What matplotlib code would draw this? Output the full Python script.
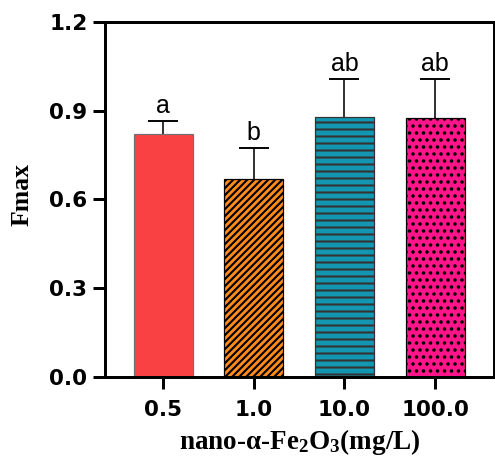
import matplotlib
matplotlib.use('Agg')
import matplotlib.pyplot as plt
import numpy as np

# Fmax for each nano-α-Fe2O3 dose
doses = ['0.5', '1.0', '10.0', '100.0']
fmax = [0.821, 0.669, 0.878, 0.875]
fmax_sd = [0.044, 0.105, 0.129, 0.132]
letters = ['a', 'b', 'ab', 'ab']

colors = ['#F94144', '#FF8C1A', '#1296B2', '#FF1489']
edges = ['#707070', 'black', '#333333', 'black']
hatches = [None, '//////', '---', '...']

DPI = 126
plt.rcParams['hatch.linewidth'] = 1.2
plt.rcParams['mathtext.fontset'] = 'custom'
plt.rcParams['mathtext.rm'] = 'Liberation Serif:bold'
plt.rcParams['mathtext.it'] = 'Liberation Serif:bold'
plt.rcParams['mathtext.default'] = 'rm'

fig = plt.figure(figsize=(495 / DPI, 457 / DPI), dpi=DPI)
ax = fig.add_axes([105 / 495, 1 - 377 / 457, 389 / 495, 355 / 457])

x = np.arange(len(doses))
bars = ax.bar(x, fmax, width=0.65, color=colors, edgecolor=edges, linewidth=0.7, zorder=2)
for b, h in zip(bars, hatches):
    if h:
        b.set_hatch(h)

# upper error only: hide the cap sitting on the bar top
_, caps, _ = ax.errorbar(x, fmax, yerr=[np.zeros(len(fmax)), fmax_sd], fmt='none',
                         ecolor='black', elinewidth=0.9, capsize=8.3, capthick=1.1, zorder=1)
caps[0].set_visible(False)

for xi, v, e, t in zip(x, fmax, fmax_sd, letters):
    ax.annotate(t, (xi, v + e), xytext=(0, 4.5), textcoords='offset points',
                ha='center', va='baseline', fontsize=14.3, family='Liberation Sans')

ax.set_xlim(-0.64, 3.65)
ax.set_ylim(0, 1.2)
ax.set_yticks([0.0, 0.3, 0.6, 0.9, 1.2])
ax.set_yticklabels(['0.0', '0.3', '0.6', '0.9', '1.2'])
ax.set_xticks(x)
ax.set_xticklabels(doses)

for s in ax.spines.values():
    s.set_linewidth(1.7)
ax.tick_params(axis='y', length=7, width=1.7, pad=3)
ax.tick_params(axis='x', length=7, width=1.7, pad=6)
for lab in ax.get_xticklabels() + ax.get_yticklabels():
    lab.set_fontfamily('DejaVu Sans')
    lab.set_fontweight('bold')
    lab.set_fontsize(12.3)

ax.set_ylabel('Fmax', family='Liberation Serif', fontweight='bold', fontsize=14.7)
ax.yaxis.set_label_coords(-0.185, 0.515)
ax.set_xlabel('nano-α-Fe$_2$O$_3$(mg/L)', family='Liberation Serif', fontweight='bold',
              fontsize=15.5, labelpad=4)

fig.savefig('out.png', dpi=DPI)
